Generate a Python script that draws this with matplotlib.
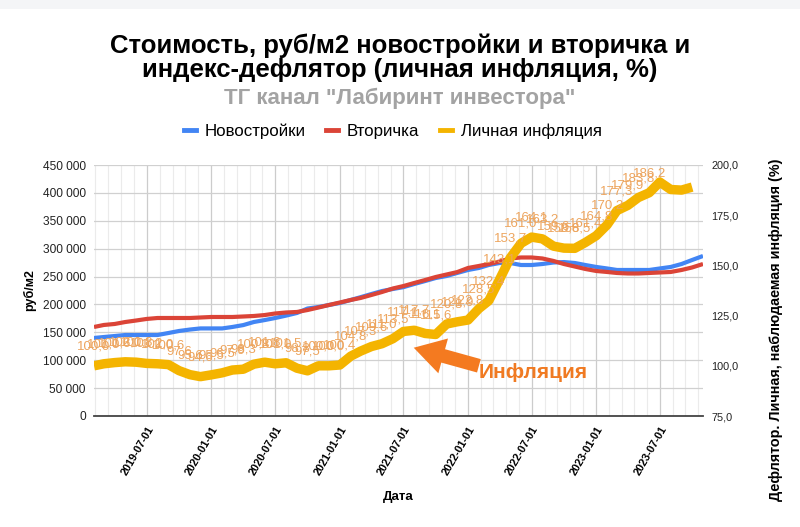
import matplotlib
matplotlib.use('Agg')
import matplotlib.pyplot as plt
import numpy as np
import pandas as pd
import matplotlib.dates as mdates
from matplotlib.ticker import FuncFormatter, FixedLocator
from matplotlib.lines import Line2D
from matplotlib.patches import Rectangle

# ---------------- data ----------------
start_month = '2019-02-01'
series_names = ['Новостройки', 'Вторичка', 'Личная инфляция']

new_build = [139900, 141600, 143400, 145200, 145200, 145200, 145200, 148800, 152400, 155000,
             157000, 157000, 157000, 159600, 163000, 168500, 172000, 175700, 180000, 184700,
             192700, 195400, 199000, 202600, 208000, 213000, 218700, 224000, 227700, 231000,
             236700, 242000, 247400, 251000, 256400, 261800, 265400, 270700, 274300, 274300,
             270700, 270700, 272500, 275200, 276000, 274300, 270700, 267200, 264500, 261800,
             261800, 261800, 261800, 264500, 267200, 272500, 279700, 286900]

secondary = [159600, 163200, 165000, 168500, 171200, 174000, 175700, 175700, 175700, 175700,
             176600, 177500, 177500, 177500, 178400, 179300, 181000, 183800, 185600, 186500,
             190000, 194500, 199000, 203500, 208000, 211600, 217000, 222300, 228600, 233000,
             238500, 243800, 249200, 253700, 258000, 265400, 269000, 272500, 277000, 282400,
             284200, 284200, 282400, 278000, 272500, 268000, 263600, 260000, 258200, 256400,
             255500, 255500, 256400, 257300, 258200, 261800, 266300, 272500]

inflation = [100.0, 101.0, 101.6, 102.0, 101.8, 101.2, 101.0, 100.6, 97.6, 95.6,
             94.6, 95.5, 96.5, 97.9, 98.3, 100.8, 101.8, 101.0, 101.5, 98.8,
             97.5, 100.0, 100.0, 100.4, 104.8, 107.3, 109.6, 111.0, 113.5, 117.1,
             117.7, 116.1, 115.6, 120.8, 121.9, 122.8, 128.5, 132.4, 143.1, 153.7,
             161.0, 164.1, 163.2, 159.6, 158.6, 158.5, 161.4, 164.8, 170.2, 177.3,
             179.9, 183.8, 186.2, 191.5, 187.8, 187.5, 189.0]
n_labeled = 53  # data labels shown for the first points of the inflation series

x_tick_labels = ['2019-07-01', '2020-01-01', '2020-07-01', '2021-01-01', '2021-07-01',
                 '2022-01-01', '2022-07-01', '2023-01-01', '2023-07-01']
left_ticks = [0, 50000, 100000, 150000, 200000, 250000, 300000, 350000, 400000, 450000]
right_ticks = [75, 100, 125, 150, 175, 200]

# ---------------- style ----------------
C_BLUE = '#4285F4'
C_RED = '#DB4437'
C_YEL = '#F4B400'
C_LABEL = '#EDA55E'
plt.rcParams['font.family'] = ['Liberation Sans', 'DejaVu Sans']

fig = plt.figure(figsize=(8.0, 5.27), dpi=100)
fig.patch.set_facecolor('white')
fig.patches.append(Rectangle((0, 1 - 9 / 527), 1, 9 / 527, transform=fig.transFigure,
                             facecolor='#f4f5f7', edgecolor='none', zorder=0))

L, R, T, B = 94, 703, 165, 416
W, H = 800, 527
ax = fig.add_axes([L / W, 1 - B / H, (R - L) / W, (B - T) / H])
ax2 = ax.twinx()

dates_main = pd.date_range(start_month, periods=len(new_build), freq='MS')
dates_inf = pd.date_range(start_month, periods=len(inflation), freq='MS')

ax.plot(dates_main, new_build, color=C_BLUE, lw=3.0, solid_joinstyle='round',
        solid_capstyle='butt', zorder=3)
ax.plot(dates_main, secondary, color=C_RED, lw=3.0, solid_joinstyle='round',
        solid_capstyle='butt', zorder=3)
ax2.plot(dates_inf, inflation, color=C_YEL, lw=6.8, solid_joinstyle='round',
         solid_capstyle='butt', zorder=3)

for d, v in list(zip(dates_inf, inflation))[:n_labeled]:
    ax2.annotate(f"{v:.1f}".replace('.', ','), xy=(d, v), xytext=(0, 14),
                 textcoords='offset points', ha='center', va='center',
                 fontsize=9.5, color=C_LABEL, zorder=5)

# axes limits
ax.set_xlim(dates_main[0], dates_main[-1])
ax.set_ylim(left_ticks[0], left_ticks[-1])
ax2.set_ylim(right_ticks[0], right_ticks[-1])

# x ticks / grid
major = [pd.Timestamp(s) for s in x_tick_labels]
major_num = mdates.date2num(major)
step = np.mean(np.diff(major_num)) / 5
x0, x1 = mdates.date2num(dates_main[0]), mdates.date2num(dates_main[-1])
minor = []
v = major_num[0] - step
while v > x0:
    minor.append(v)
    v -= step
for a, b in zip(major_num[:-1], major_num[1:]):
    minor.extend(list(np.linspace(a, b, 6)[1:-1]))
v = major_num[-1] + step
while v < x1:
    minor.append(v)
    v += step
ax.xaxis.set_major_locator(FixedLocator(major_num))
ax.xaxis.set_minor_locator(FixedLocator(sorted(minor)))
ax.set_xticklabels(x_tick_labels, rotation=60, ha='right', va='top',
                   rotation_mode='anchor', fontsize=7.8, fontweight='bold')
ax.tick_params(axis='x', which='both', length=0, pad=6)
ax.xaxis.grid(True, which='major', color='#cccccc', lw=0.9)
ax.xaxis.grid(True, which='minor', color='#ebebeb', lw=0.8)

ax.set_yticks(left_ticks)
ax.yaxis.set_major_formatter(FuncFormatter(lambda v, p: f"{int(v):,}".replace(',', ' ')))
ax.tick_params(axis='y', length=0, pad=6, labelsize=8.6, labelcolor='#222222')
ax.yaxis.grid(True, color='#d0d0d0', lw=0.9)
ax.set_axisbelow(True)

ax2.set_yticks(right_ticks)
ax2.yaxis.set_major_formatter(FuncFormatter(lambda v, p: f"{v:.1f}".replace('.', ',')))
ax2.tick_params(axis='y', length=0, pad=6, labelsize=7.8, labelcolor='#222222')

for s in ['top', 'left', 'right']:
    ax.spines[s].set_visible(False)
    ax2.spines[s].set_visible(False)
ax2.spines['bottom'].set_visible(False)
ax.spines['bottom'].set_color('#444444')
ax.spines['bottom'].set_linewidth(1.3)

# axis titles
ax.set_xlabel('Дата', fontsize=9.5, fontweight='bold', labelpad=10)
fig.text(30 / W, 1 - 290 / H, 'руб/м2', rotation=90, ha='center', va='center',
         fontsize=9, fontweight='bold')
fig.text(776 / W, 1 - 330 / H, 'Дефлятор. Личная, наблюдаемая инфляция (%)', rotation=90,
         ha='center', va='center', fontsize=10.4, fontweight='bold')

# titles
fig.text(0.5, 1 - 46 / H, 'Стоимость, руб/м2 новостройки и вторичка и', ha='center',
         va='center', fontsize=18.5, fontweight='bold')
fig.text(0.5, 1 - 70 / H, 'индекс-дефлятор (личная инфляция, %)', ha='center',
         va='center', fontsize=18.5, fontweight='bold')
fig.text(0.5, 1 - 98 / H, 'ТГ канал "Лабиринт инвестора"', ha='center', va='center',
         fontsize=16, fontweight='bold', color='#a3a3a3')

# legend
handles = [Line2D([], [], color=c, lw=3.5) for c in (C_BLUE, C_RED, C_YEL)]
leg = fig.legend(handles, series_names, loc='center', bbox_to_anchor=(0.491, 1 - 131 / H),
                 ncol=3, frameon=False, handlelength=0.7, handletextpad=0.5,
                 columnspacing=1.25, prop={'size': 12.2})

# annotation arrow + text
ax.annotate('', xy=(0.525, 0.272), xycoords='axes fraction', xytext=(0.632, 0.200),
            textcoords='axes fraction',
            arrowprops=dict(arrowstyle='simple,head_length=1.1,head_width=1.3,tail_width=0.5',
                            fc='#F47A20', ec='none', mutation_scale=20, shrinkA=0, shrinkB=0),
            zorder=6)
ax.text(0.721, 0.175, 'Инфляция', transform=ax.transAxes, fontsize=15, fontweight='bold',
        color='#F07A22', ha='center', va='center', zorder=6)

fig.savefig('out.png', dpi=100)
